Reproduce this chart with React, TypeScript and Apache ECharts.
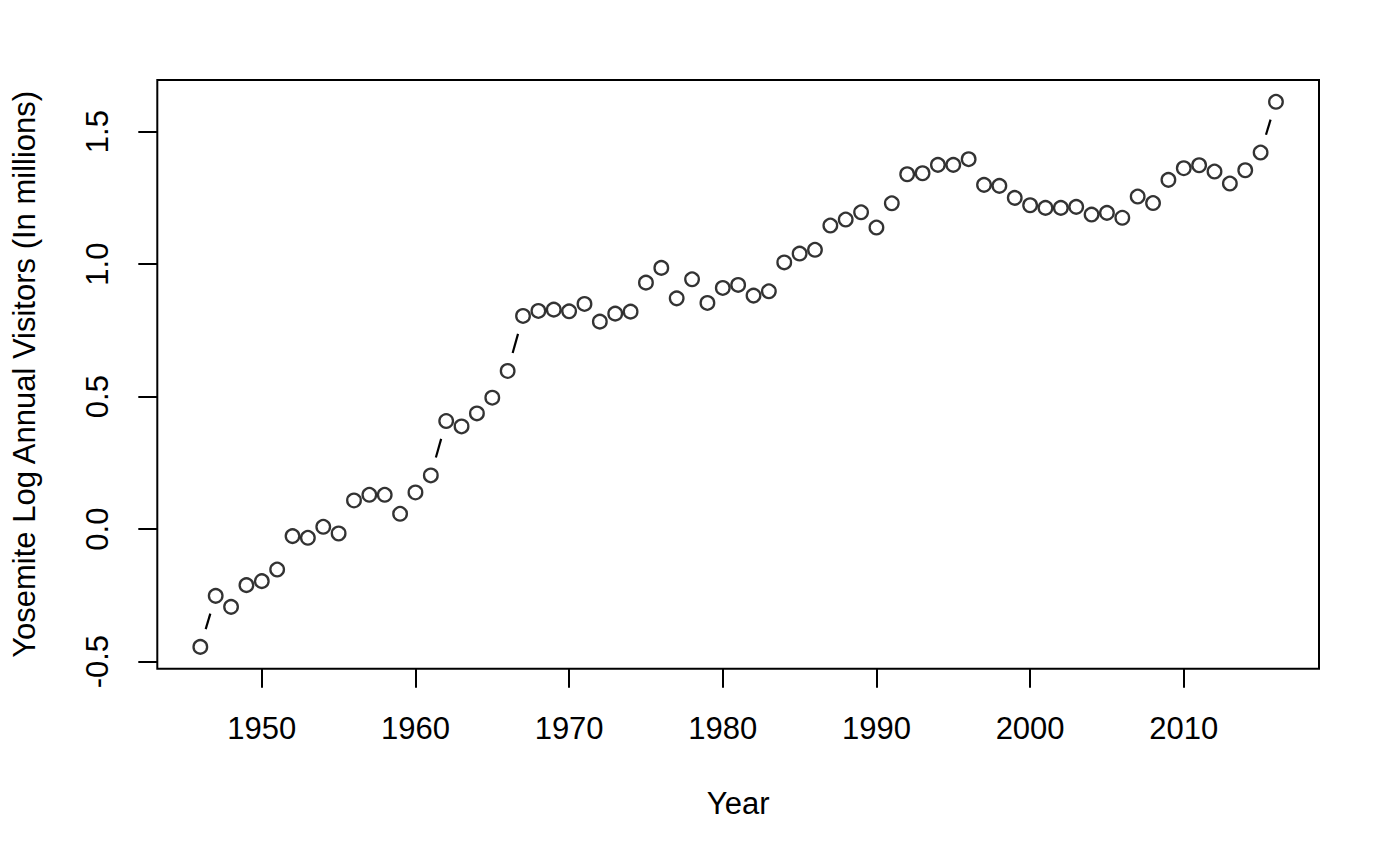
import React, { useEffect, useRef } from "react";
import * as echarts from "echarts";

const years: number[] = [
  1946, 1947, 1948, 1949, 1950, 1951, 1952, 1953, 1954, 1955,
  1956, 1957, 1958, 1959, 1960, 1961, 1962, 1963, 1964, 1965,
  1966, 1967, 1968, 1969, 1970, 1971, 1972, 1973, 1974, 1975,
  1976, 1977, 1978, 1979, 1980, 1981, 1982, 1983, 1984, 1985,
  1986, 1987, 1988, 1989, 1990, 1991, 1992, 1993, 1994, 1995,
  1996, 1997, 1998, 1999, 2000, 2001, 2002, 2003, 2004, 2005,
  2006, 2007, 2008, 2009, 2010, 2011, 2012, 2013, 2014, 2015,
  2016,
];

const logVisitors: number[] = [
  -0.4445, -0.2519, -0.2934, -0.2115, -0.1964, -0.1526, -0.0264, -0.0329, 0.0087, -0.0166,
  0.108, 0.1295, 0.1295, 0.0578, 0.1382, 0.2024, 0.4079, 0.3875, 0.4366, 0.4958,
  0.5967, 0.8044, 0.8233, 0.8282, 0.8218, 0.8497, 0.7829, 0.8131, 0.8206, 0.9301,
  0.9857, 0.8708, 0.9426, 0.8535, 0.9101, 0.9215, 0.8811, 0.8973, 1.0064, 1.0397,
  1.054, 1.1454, 1.1681, 1.1956, 1.1379, 1.2296, 1.3391, 1.3429, 1.3746, 1.3746,
  1.3958, 1.2991, 1.2953, 1.25, 1.2221, 1.2122, 1.2122, 1.216, 1.1869, 1.1934,
  1.1749, 1.2549, 1.2304, 1.318, 1.3618, 1.3731, 1.3493, 1.304, 1.3542, 1.4211,
  1.6125,
];

const xTicks: number[] = [1950, 1960, 1970, 1980, 1990, 2000, 2010];
const yTicks: number[] = [-0.5, 0.0, 0.5, 1.0, 1.5];

const xTitle = "Year";
const yTitle = "Yosemite Log Annual Visitors (In millions)";

const FONT = "'Liberation Sans', Arial, Helvetica, sans-serif";

function rRange(vals: number[]): [number, number] {
  const lo = Math.min(...vals);
  const hi = Math.max(...vals);
  const d = (hi - lo) * 0.04;
  return [lo - d, hi + d];
}

export default function App() {
  const ref = useRef<HTMLDivElement>(null);

  useEffect(() => {
    if (!ref.current) return;
    const chart = echarts.init(ref.current, null, { renderer: "svg" });
    const [xMin, xMax] = rRange(years);
    const [yMin, yMax] = rRange(logVisitors);
    const points = years.map((y, i) => [y, logVisitors[i]]);
    const segments = years.slice(1).map((y, i) => [years[i], logVisitors[i], y, logVisitors[i + 1]]);
    const GAP = 18.6;

    const axisText = { fontSize: 31, color: "#000", fontFamily: FONT };

    chart.setOption({
      animation: false,
      backgroundColor: "#fff",
      grid: {
        left: 157.3,
        top: 80,
        right: 81,
        bottom: 196.3,
        show: true,
        borderColor: "#000",
        borderWidth: 2,
        backgroundColor: "transparent",
      },
      xAxis: {
        type: "value",
        min: xMin,
        max: xMax,
        name: xTitle,
        nameLocation: "middle",
        nameGap: 119,
        nameTextStyle: axisText,
        axisLine: { show: false, onZero: false },
        axisTick: {
          show: true,
          customValues: xTicks,
          length: 19,
          lineStyle: { color: "#000", width: 2 },
        },
        axisLabel: {
          customValues: xTicks,
          margin: 44,
          ...axisText,
          formatter: (v: number) => String(v),
        },
        splitLine: { show: false },
      },
      yAxis: {
        type: "value",
        min: yMin,
        max: yMax,
        name: yTitle,
        nameLocation: "middle",
        nameGap: 117.7,
        nameRotate: 90,
        nameTextStyle: axisText,
        axisLine: { show: false, onZero: false },
        axisTick: {
          show: true,
          customValues: yTicks,
          length: 19,
          lineStyle: { color: "#000", width: 2 },
        },
        axisLabel: {
          customValues: yTicks,
          rotate: 90,
          margin: 44.7,
          ...axisText,
          formatter: (v: number) => v.toFixed(1),
        },
        splitLine: { show: false },
      },
      series: [
        {
          type: "custom",
          coordinateSystem: "cartesian2d",
          data: segments,
          encode: { x: [0, 2], y: [1, 3] },
          silent: true,
          z: 2,
          renderItem: (_params: any, api: any) => {
            const p0 = api.coord([api.value(0), api.value(1)]);
            const p1 = api.coord([api.value(2), api.value(3)]);
            const dx = p1[0] - p0[0];
            const dy = p1[1] - p0[1];
            const d = Math.sqrt(dx * dx + dy * dy);
            if (d <= 2 * GAP + 1) return { type: "group", children: [] };
            const ux = dx / d;
            const uy = dy / d;
            return {
              type: "line",
              shape: {
                x1: p0[0] + ux * GAP,
                y1: p0[1] + uy * GAP,
                x2: p1[0] - ux * GAP,
                y2: p1[1] - uy * GAP,
              },
              style: { stroke: "#000", lineWidth: 2.2, fill: null },
            };
          },
        },
        {
          type: "scatter",
          data: points,
          symbol: "circle",
          symbolSize: 13.6,
          silent: true,
          z: 3,
          itemStyle: { color: "transparent", borderColor: "#000", borderWidth: 2.3 },
        },
      ],
    });
    return () => chart.dispose();
  }, []);

  return (
    <div
      ref={ref}
      style={{ position: "fixed", left: 0, top: 0, width: 1400, height: 865, background: "#fff" }}
    />
  );
}
